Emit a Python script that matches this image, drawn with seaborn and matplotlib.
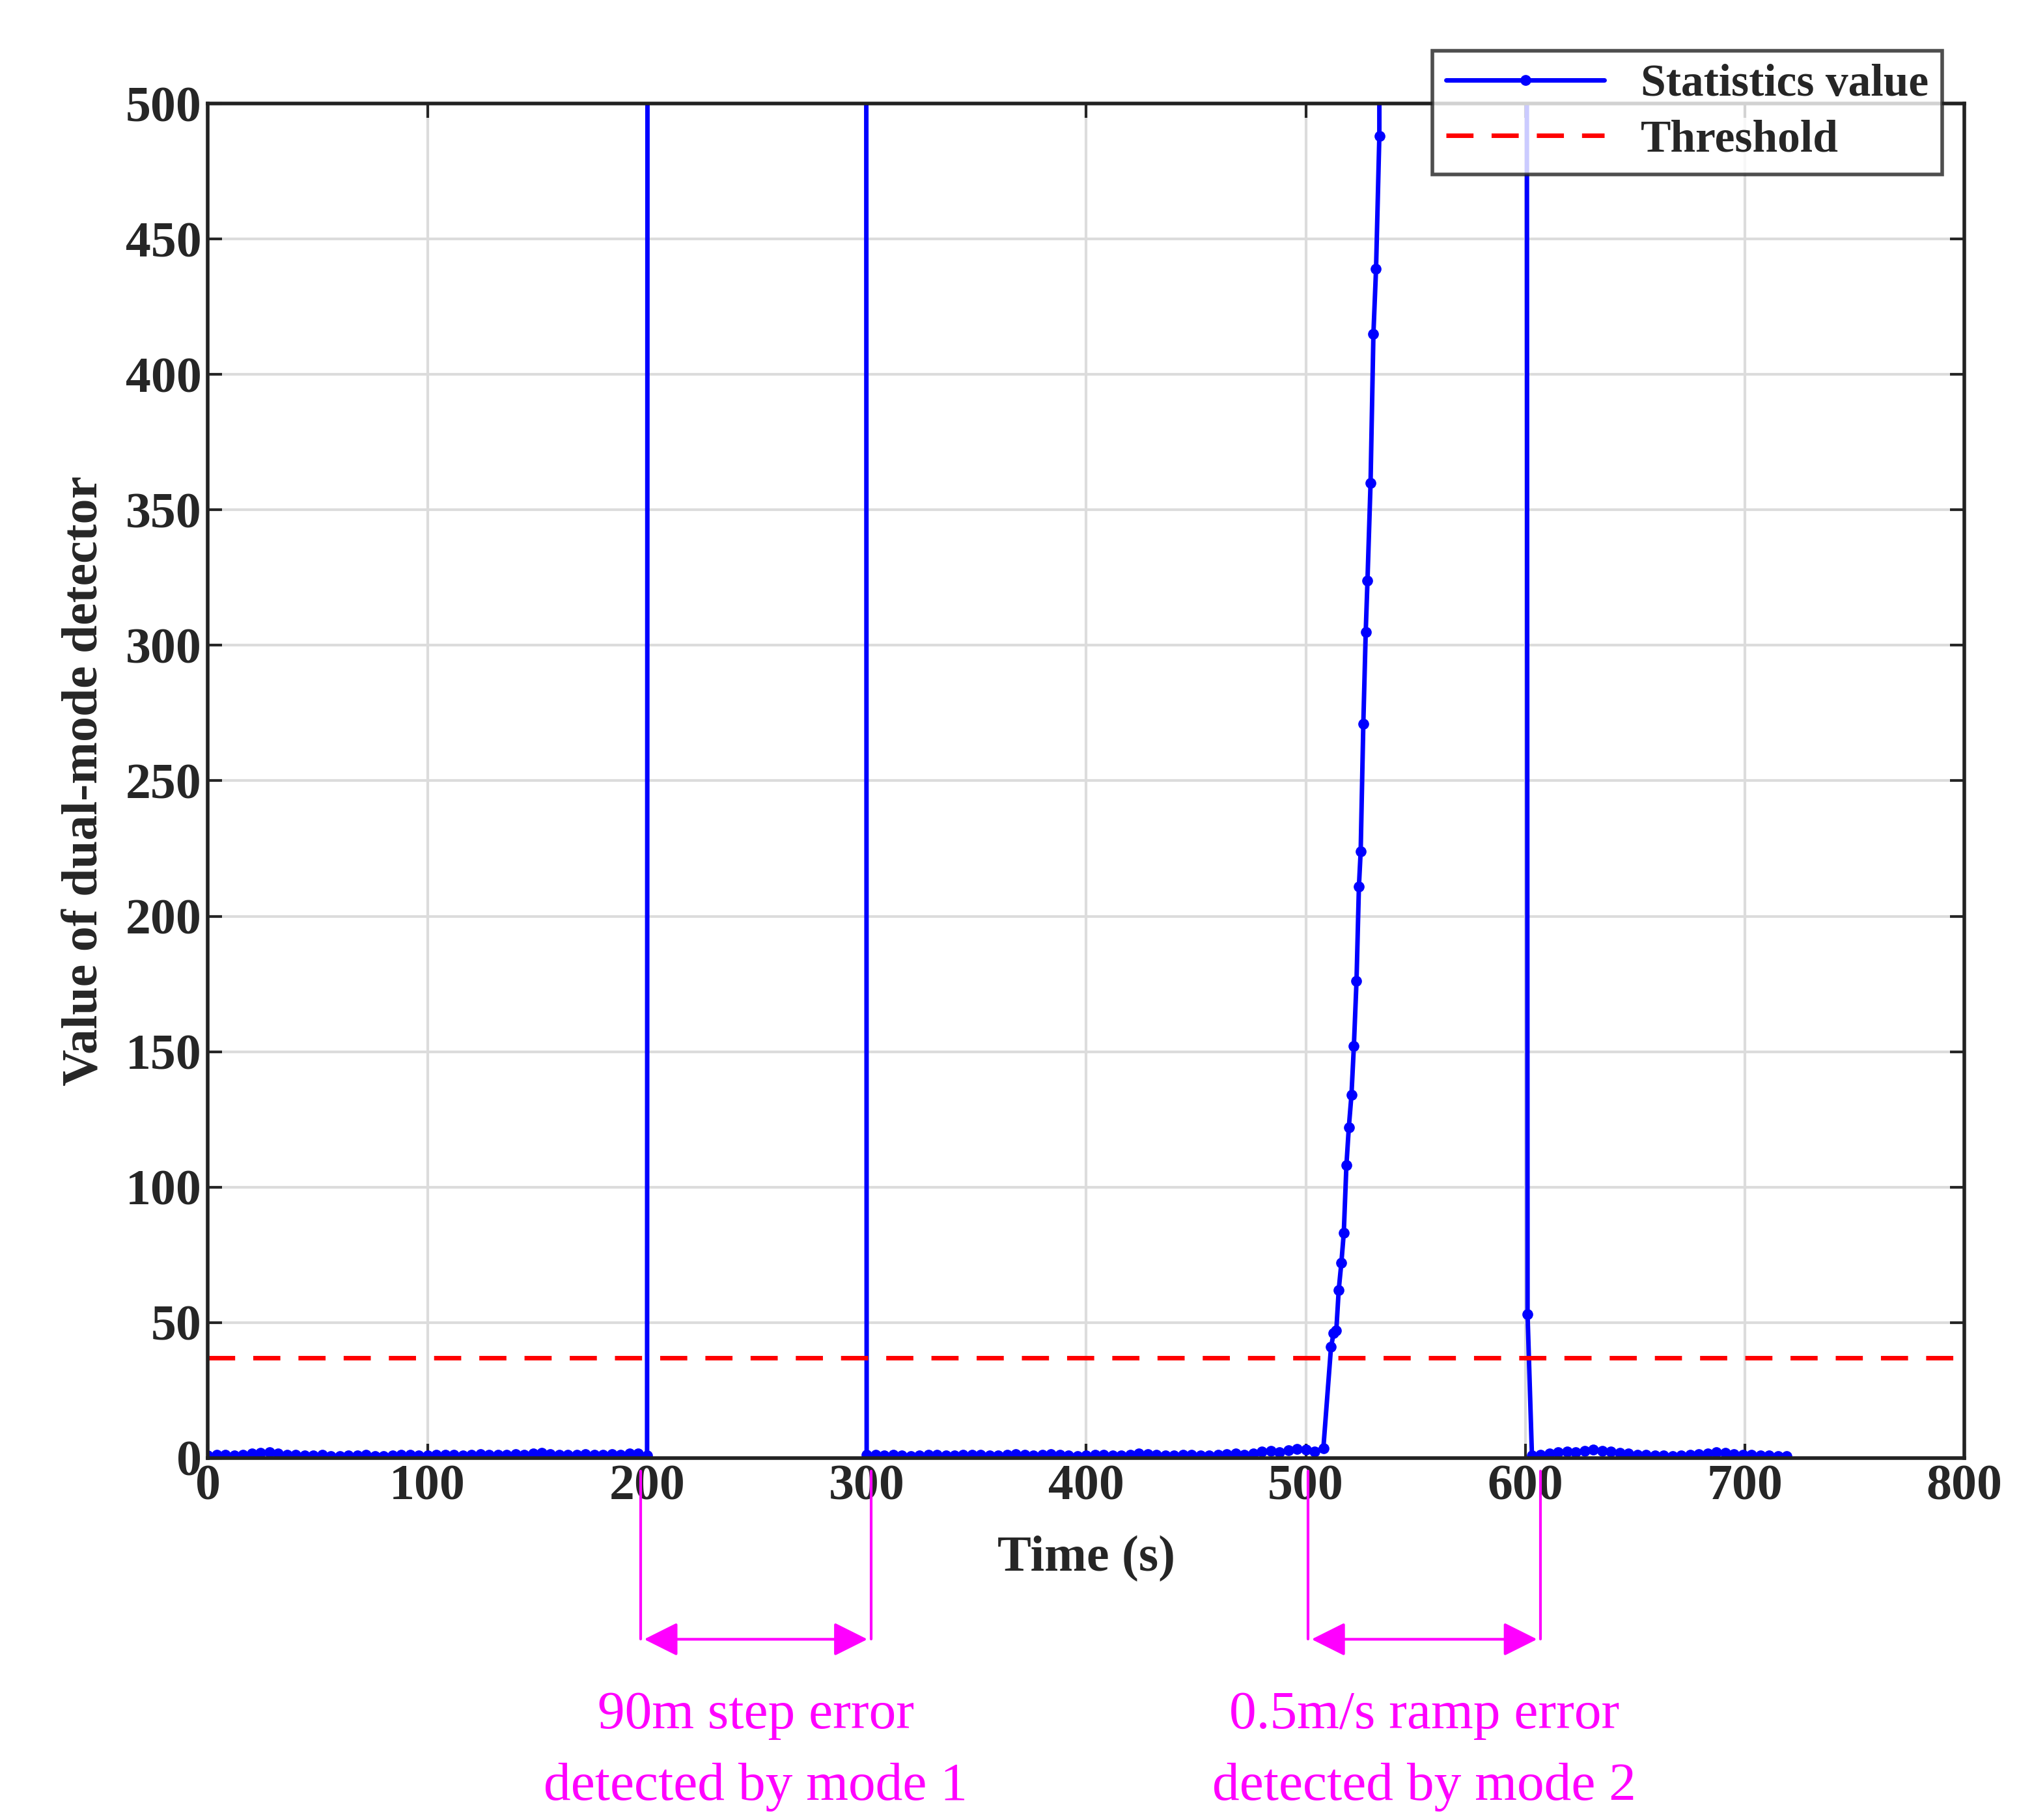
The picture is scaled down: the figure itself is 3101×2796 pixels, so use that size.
import matplotlib
matplotlib.use('Agg')
import matplotlib.pyplot as plt
import seaborn as sns
import numpy as np
import pandas as pd

# low-level statistic samples (every 4 s)
t_seg1 = list(range(0, 201, 4))
v_seg1 = [0.8, 1.0, 1.2, 0.9, 1.1, 1.5, 1.8, 2.0, 1.6, 1.2, 1.0, 0.8, 0.9, 1.1, 0.7, 0.6,
          0.8, 0.9, 1.0, 0.7, 0.6, 0.8, 1.0, 1.1, 0.9, 0.8, 1.0, 1.2, 1.1, 0.9, 1.0, 1.3,
          1.2, 1.0, 1.1, 1.4, 1.2, 1.5, 1.8, 1.3, 1.1, 1.0, 1.2, 1.4, 1.1, 1.0, 1.3, 1.2,
          1.5, 1.6, 0.9]
t_seg2 = list(range(300, 512, 4))
v_seg2 = [1.0, 1.2, 0.9, 1.1, 0.8, 0.7, 0.9, 1.0, 1.1, 0.8, 0.9, 1.0, 1.2, 1.1, 0.9, 0.8,
          1.0, 1.3, 1.1, 0.9, 1.0, 1.4, 1.2, 0.8, 0.7, 0.9, 1.0, 1.1, 0.9, 0.8, 1.2, 1.5,
          1.3, 1.0, 0.9, 0.8, 1.0, 1.1, 0.9, 0.8, 1.0, 1.4, 1.6, 1.2, 1.5, 2.2, 2.5, 2.0,
          2.8, 3.2, 3.0, 2.4, 3.5]
t_ramp = [511.5, 512.7, 513.9, 515.0, 516.2, 517.3, 518.5, 519.6, 520.8, 521.9, 523.1,
          524.2, 525.0, 526.2, 527.3, 528.1, 529.5, 530.8, 532.0, 533.5]
v_ramp = [41, 46, 47, 62, 72, 83, 108, 122, 134, 152, 176, 211, 224, 271, 305, 324, 360,
          415, 439, 488]
t_high = [535, 599]
v_high = [3000, 3000]
t_seg3 = [601] + list(range(603, 723, 4))
v_seg3 = [53, 0.8, 1.0, 1.5, 2.0, 2.3, 2.1, 2.5, 3.0, 2.6, 2.2, 1.8, 1.5, 1.2, 1.0, 0.9,
          0.8, 0.7, 0.9, 1.1, 1.3, 1.6, 2.0, 1.8, 1.4, 1.2, 1.0, 0.8, 0.9, 0.7, 0.6]
t_gap = [201, 299]
v_gap = [3000, 3000]
threshold = 37

time = t_seg1 + t_gap + t_seg2 + t_ramp + t_high + t_seg3
value = v_seg1 + v_gap + v_seg2 + v_ramp + v_high + v_seg3
df = pd.DataFrame({'Time': time, 'Value': value})

sns.set_style('ticks')
plt.rcParams['font.family'] = ['Liberation Serif', 'DejaVu Serif']
plt.rcParams['font.weight'] = 'bold'

fig = plt.figure(figsize=(15.505, 13.98), dpi=200)
ax = fig.add_axes([0.103, 0.199, 0.870, 0.744])
ax.grid(True, color='#dcdcdc', lw=1.5)
ax.set_axisbelow(True)

sns.lineplot(data=df, x='Time', y='Value', ax=ax, color='#0000ff', lw=2.5,
             marker='o', markersize=6, markeredgewidth=0, sort=False,
             estimator=None, label='Statistics value')
ax.axhline(threshold, color='#ff0000', ls=(0, (6, 4)), lw=2.5, label='Threshold')

ax.set_xlim(0, 800)
ax.set_ylim(0, 500)
ax.set_xticks(range(0, 801, 100))
ax.set_yticks(range(0, 501, 50))
ax.tick_params(direction='in', length=8, width=1.5, labelsize=28, top=True, right=True)
for lab in ax.get_xticklabels() + ax.get_yticklabels():
    lab.set_fontweight('bold')
for s in ax.spines.values():
    s.set_linewidth(2)
    s.set_color('#222222')
ax.set_xlabel('Time (s)', fontsize=28, fontweight='bold', labelpad=14)
ax.set_ylabel('Value of dual-mode detector', fontsize=28, fontweight='bold', labelpad=10)

leg = ax.legend(loc='upper right', bbox_to_anchor=(1.0, 1.056), fontsize=25,
                frameon=True, fancybox=False, edgecolor='#222222', handlelength=3.5,
                borderpad=0.3, labelspacing=0.3)
leg.get_frame().set_linewidth(2)
for txt in leg.get_texts():
    txt.set_fontweight('bold')

# magenta annotations below the axes
mag = '#ff00ff'
trans = ax.get_xaxis_transform()
for (x0, x1, line1, line2) in [(197, 302, '90m step error', 'detected by mode 1'),
                               (501, 607, '0.5m/s ramp error', 'detected by mode 2')]:
    for xv in (x0, x1):
        ax.plot([xv, xv], [-0.01, -0.134], transform=trans, color=mag, lw=1.5, clip_on=False)
    ax.annotate('', xy=(x0, -0.134), xytext=(x1, -0.134), xycoords=trans, textcoords=trans,
                arrowprops=dict(arrowstyle='<|-|>', color=mag, lw=1.5, mutation_scale=40))
    xc = (x0 + x1) / 2
    ax.text(xc, -0.19, line1, transform=trans, color=mag, fontsize=30, ha='center',
            va='center', fontweight='normal')
    ax.text(xc, -0.243, line2, transform=trans, color=mag, fontsize=30, ha='center',
            va='center', fontweight='normal')

fig.savefig('out.png', dpi=200)
